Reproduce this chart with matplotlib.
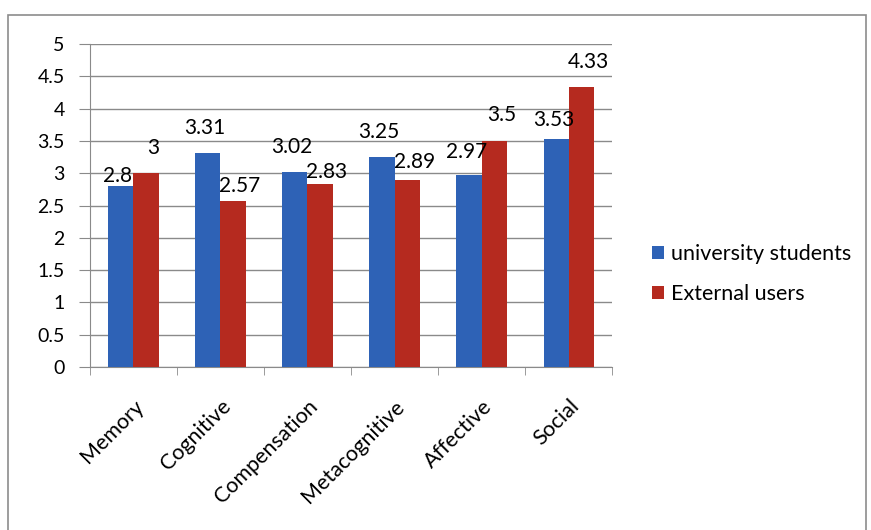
import numpy as np
import matplotlib
matplotlib.use("Agg")
import matplotlib.pyplot as plt
from matplotlib.patches import Rectangle

plt.rcParams['font.family'] = ['Lato', 'DejaVu Sans']

categories = ["Memory", "Cognitive", "Compensation", "Metacognitive", "Affective", "Social"]
students = [2.8, 3.31, 3.02, 3.25, 2.97, 3.53]
external = [3, 2.57, 2.83, 2.89, 3.5, 4.33]
series_names = ["university students", "External users"]

# vertical label offsets (points) so neighbouring labels don't collide
students_dy = [7, 18, 18, 18, 17, 14]
external_dy = [18, 11, 9, 13, 19, 18]

blue = "#2E62B6"
red = "#B52A1F"

fig = plt.figure(figsize=(8.71, 5.30), dpi=100)
ax = fig.add_axes([0.103, 0.3075, 0.60, 0.6095])

# outer chart border
fig.patches.append(Rectangle((0.009, -0.01), 0.985, 0.982, transform=fig.transFigure,
                             fill=False, edgecolor="#8c8c8c", linewidth=1.2))

x = np.arange(len(categories))
w = 0.29
b1 = ax.bar(x - w / 2, students, w, color=blue, label=series_names[0], zorder=3)
b2 = ax.bar(x + w / 2, external, w, color=red, label=series_names[1], zorder=3)

for xi, v, dy in zip(x - w / 2, students, students_dy):
    ax.annotate(f"{v:g}", (xi, v), xytext=(-2, dy), textcoords="offset points",
                ha="center", va="center", fontsize=15, zorder=5)
for xi, v, dy in zip(x + w / 2, external, external_dy):
    ax.annotate(f"{v:g}", (xi, v), xytext=(5, dy), textcoords="offset points",
                ha="center", va="center", fontsize=15, zorder=5)

ax.set_xlim(-0.5, len(categories) - 0.5)
ax.set_ylim(0, 5)
ax.set_yticks(np.arange(0, 5.01, 0.5))
ax.set_yticklabels([f"{t:g}" for t in np.arange(0, 5.01, 0.5)], fontsize=14)
ax.yaxis.grid(True, color="#8a8a8a", linewidth=1.0, zorder=0)
ax.tick_params(axis='y', length=8, color="#8a8a8a", pad=10)

ax.set_xticks(x)
ax.set_xticklabels(categories, rotation=45, ha="right", rotation_mode="anchor", fontsize=15.5)
ax.tick_params(axis='x', length=0, pad=21)
ax.set_xticks(np.arange(-0.5, len(categories)), minor=True)
ax.tick_params(axis='x', which='minor', length=6, color="#8a8a8a")

for s in ("top", "right"):
    ax.spines[s].set_visible(False)
for s in ("left", "bottom"):
    ax.spines[s].set_color("#8a8a8a")

fig.legend(handles=[b1, b2], labels=series_names, loc="center left",
           bbox_to_anchor=(0.726, 0.483), frameon=False, fontsize=15.5,
           handlelength=0.55, handleheight=0.55, handletextpad=0.35, labelspacing=0.9)

fig.savefig("out.png", dpi=100)
